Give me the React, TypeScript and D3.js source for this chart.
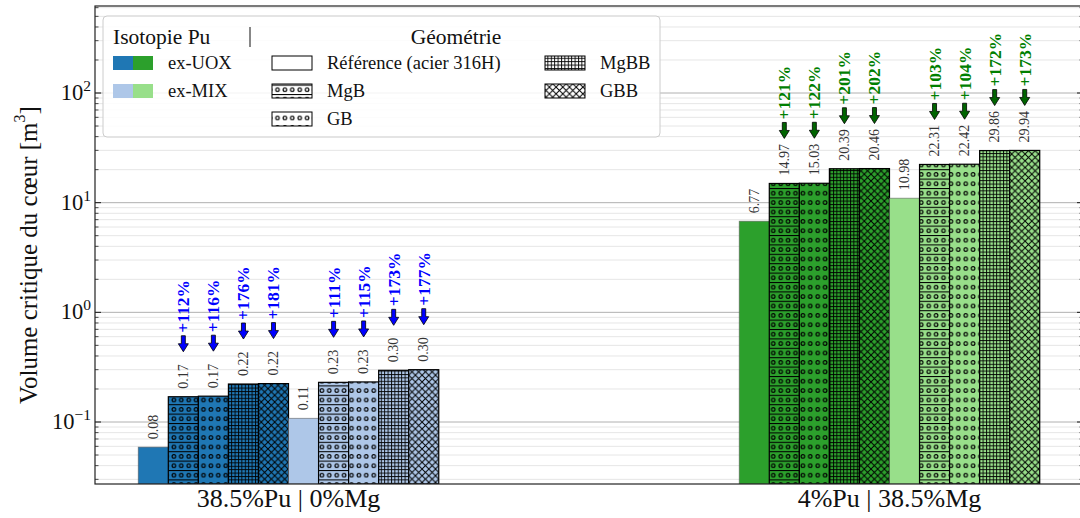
import React from "react";
import * as d3 from "d3";

// ---------- DATA ----------
const groupLabels = ["38.5%Pu | 0%Mg", "4%Pu | 38.5%Mg"];
const geometries = ["Référence (acier 316H)", "MgB", "GB", "MgBB", "GBB"];
const isotopes = ["ex-UOX", "ex-MIX"];

// bar heights [m3] (group 0 = 38.5%Pu|0%Mg, group 1 = 4%Pu|38.5%Mg)
const uoxGroup0 = [0.059, 0.17, 0.172, 0.222, 0.224];
const mixGroup0 = [0.108, 0.23, 0.232, 0.296, 0.3];
const uoxGroup1 = [6.77, 14.97, 15.03, 20.39, 20.46];
const mixGroup1 = [10.98, 22.31, 22.42, 29.86, 29.94];

// printed value labels
const valueLabels0 = ["0.08", "0.17", "0.17", "0.22", "0.22", "0.11", "0.23", "0.23", "0.30", "0.30"];
const valueLabels1 = ["6.77", "14.97", "15.03", "20.39", "20.46", "10.98", "22.31", "22.42", "29.86", "29.94"];

// gain labels vs reference (for MgB, GB, MgBB, GBB)
const gainUox0 = ["+112%", "+116%", "+176%", "+181%"];
const gainMix0 = ["+111%", "+115%", "+173%", "+177%"];
const gainUox1 = ["+121%", "+122%", "+201%", "+202%"];
const gainMix1 = ["+103%", "+104%", "+172%", "+173%"];

const yTickValues = [0.1, 1, 10, 100];
const yTickExps = ["−1", "0", "1", "2"];

// ---------- STYLE ----------
const colors = [
  ["#1f77b4", "#aec7e8"],
  ["#2ca02c", "#98df8a"],
];
const gainTextColors = ["#0000ff", "#008000"];
const arrowColors = ["#0000ff", "#006400"];
const patternIds = [null, "pMgB", "pGB", "pMgBB", "pGBB"];
const FONT = "'Liberation Serif', 'Times New Roman', serif";

const W = 1080;
const H = 518;
const left = 95;
const right = 1083;
const top = 6;
const bottom = 484;

export default function App() {
  const x = d3.scaleLinear().domain([-0.322, 1.322]).range([left, right]);
  const y = d3.scaleLog().domain([0.02721, 621.4]).range([bottom, top]);
  const barW = 0.05;
  const bwPx = x(barW) - x(0);

  const heights = [
    [uoxGroup0, mixGroup0],
    [uoxGroup1, mixGroup1],
  ];
  const vLabels = [valueLabels0, valueLabels1];
  const gains = [
    [gainUox0, gainMix0],
    [gainUox1, gainMix1],
  ];

  type Bar = { g: number; iso: number; geo: number; idx: number; v: number; cx: number; label: string; gain: string | null };
  const bars: Bar[] = [];
  [0, 1].forEach((g) => {
    [0, 1].forEach((iso) => {
      heights[g][iso].forEach((v, geo) => {
        const idx = iso * 5 + geo;
        const cx = x(g + (idx - 4.5) * barW);
        bars.push({
          g,
          iso,
          geo,
          idx,
          v,
          cx,
          label: vLabels[g][idx],
          gain: geo > 0 ? gains[g][iso][geo - 1] : null,
        });
      });
    });
  });

  const [d0, d1] = y.domain();
  const minor: number[] = [];
  const major: number[] = [];
  for (let e = -2; e <= 3; e++) {
    for (let k = 1; k <= 9; k++) {
      const v = k * Math.pow(10, e);
      if (v < d0 || v > d1) continue;
      if (k === 1) major.push(v);
      else minor.push(v);
    }
  }

  const arrowPath = (cx: number, tip: number) => {
    const tail = tip - 16;
    const hl = 8;
    return `M${cx - 2},${tail} L${cx + 2},${tail} L${cx + 2},${tip - hl} L${cx + 5},${tip - hl} L${cx},${tip} L${cx - 5},${tip - hl} L${cx - 2},${tip - hl} Z`;
  };

  // legend layout
  const lg = { x: 103, y: 16, w: 557, h: 121 };
  const rowY = [63, 91, 119];
  const geoLegend = [
    { geo: 0, col: 0, row: 0 },
    { geo: 1, col: 0, row: 1 },
    { geo: 2, col: 0, row: 2 },
    { geo: 3, col: 1, row: 0 },
    { geo: 4, col: 1, row: 1 },
  ];
  const colPatchX = [272, 545];
  const colTextX = [327, 600];

  return (
    <svg
      width={W}
      height={H}
      style={{ position: "absolute", left: 0, top: 0, display: "block", background: "#fff" }}
      fontFamily={FONT}
    >
      <defs>
        <clipPath id="plotClip">
          <rect x={left} y={top} width={right - left} height={bottom - top} />
        </clipPath>
        <pattern id="pMgB" patternUnits="userSpaceOnUse" width={7.4} height={9.4}>
          <line x1={0} y1={0.5} x2={7.4} y2={0.5} stroke="#000" strokeWidth={1.1} />
          <circle cx={3.7} cy={5.2} r={1.8} fill="none" stroke="#000" strokeWidth={1.1} />
        </pattern>
        <pattern id="pGB" patternUnits="userSpaceOnUse" width={7.4} height={9.4}>
          <circle cx={3.7} cy={5.2} r={1.8} fill="none" stroke="#000" strokeWidth={1.1} />
        </pattern>
        <pattern id="pMgBB" patternUnits="userSpaceOnUse" width={3.4} height={3.4}>
          <line x1={0.5} y1={0} x2={0.5} y2={3.4} stroke="#000" strokeWidth={0.9} />
          <line x1={0} y1={0.5} x2={3.4} y2={0.5} stroke="#000" strokeWidth={0.9} />
        </pattern>
        <pattern id="pGBB" patternUnits="userSpaceOnUse" width={6.7} height={6.7}>
          <path d="M0,0 L6.7,6.7 M6.7,0 L0,6.7" stroke="#000" strokeWidth={1} />
        </pattern>
      </defs>

      {/* grid */}
      <g clipPath="url(#plotClip)">
        {minor.map((v) => (
          <line key={"mg" + v} x1={left} x2={right} y1={y(v)} y2={y(v)} stroke="#e6e6e6" strokeWidth={1} />
        ))}
        {major.map((v) => (
          <line key={"Mg" + v} x1={left} x2={right} y1={y(v)} y2={y(v)} stroke="#b0b0b0" strokeWidth={1} />
        ))}
      </g>

      {/* bars */}
      <g clipPath="url(#plotClip)">
        {bars.map((b) => {
          const x0 = b.cx - bwPx / 2;
          const yt = y(b.v);
          const h = bottom - yt;
          const fill = colors[b.g][b.iso];
          const pid = patternIds[b.geo];
          return (
            <g key={`b${b.g}-${b.idx}`}>
              <rect x={x0} y={yt} width={bwPx} height={h} fill={fill} />
              {pid && <rect x={x0} y={yt} width={bwPx} height={h} fill={`url(#${pid})`} />}
              <rect
                x={x0}
                y={yt}
                width={bwPx}
                height={h}
                fill="none"
                stroke={pid ? "#000" : "#555"}
                strokeOpacity={pid ? 1 : 0.6}
                strokeWidth={pid ? 1.2 : 0.9}
              />
            </g>
          );
        })}
      </g>

      {/* annotations */}
      {bars.map((b) => {
        const yt = y(b.v);
        return (
          <g key={`a${b.g}-${b.idx}`}>
            <text
              transform={`translate(${b.cx},${yt - 8}) rotate(-90)`}
              fontSize={14}
              fill="#333"
              dominantBaseline="central"
              textAnchor="start"
            >
              {b.label}
            </text>
            {b.gain && (
              <>
                <path d={arrowPath(b.cx, yt - 45)} fill={arrowColors[b.g]} stroke="#000" strokeWidth={0.8} />
                <text
                  transform={`translate(${b.cx},${yt - 64}) rotate(-90)`}
                  fontSize={17.5}
                  fontWeight="bold"
                  fill={gainTextColors[b.g]}
                  dominantBaseline="central"
                  textAnchor="start"
                >
                  {b.gain}
                </text>
              </>
            )}
          </g>
        );
      })}

      {/* ticks */}
      {major.map((v) => (
        <g key={"tk" + v}>
          <line x1={left} x2={left + 6} y1={y(v)} y2={y(v)} stroke="#000" strokeWidth={0.9} />
          <line x1={right} x2={right - 6} y1={y(v)} y2={y(v)} stroke="#000" strokeWidth={0.9} />
        </g>
      ))}
      {minor.map((v) => (
        <g key={"tm" + v}>
          <line x1={left} x2={left + 3.5} y1={y(v)} y2={y(v)} stroke="#000" strokeWidth={0.7} />
          <line x1={right} x2={right - 3.5} y1={y(v)} y2={y(v)} stroke="#000" strokeWidth={0.7} />
        </g>
      ))}

      {/* spines */}
      <rect x={left} y={top} width={right - left} height={bottom - top} fill="none" stroke="#222" strokeWidth={1.2} />

      {/* y tick labels */}
      {yTickValues.map((v, i) => (
        <text key={"yl" + v} x={91} y={y(v) + 7} textAnchor="end" fontSize={22.5} fill="#111">
          10
          <tspan fontSize={15.5} dy={-9}>
            {yTickExps[i]}
          </tspan>
        </text>
      ))}

      {/* y axis title */}
      <text
        transform={`translate(28,${(top + bottom) / 2 + 10}) rotate(-90)`}
        textAnchor="middle"
        dominantBaseline="central"
        fontSize={25}
        fill="#111"
      >
        Volume critique du cœur [m
        <tspan fontSize={16} dy={-9}>
          3
        </tspan>
        <tspan dy={9}>]</tspan>
      </text>

      {/* x category labels */}
      {groupLabels.map((l, g) => (
        <text key={l} x={x(g)} y={507} textAnchor="middle" fontSize={26} fill="#111">
          {l}
        </text>
      ))}

      {/* legend */}
      <g>
        <rect x={lg.x} y={lg.y} width={lg.w} height={lg.h} rx={4} fill="#fff" fillOpacity={0.85} stroke="#cccccc" strokeWidth={1} />
        <text x={113} y={44} fontSize={21.5} fill="#111">
          Isotopie Pu
        </text>
        <line x1={250} x2={250} y1={27} y2={47} stroke="#111" strokeWidth={1} />
        <text x={456} y={44} fontSize={21.5} textAnchor="middle" fill="#111">
          Géométrie
        </text>
        {isotopes.map((iso, i) => (
          <g key={iso}>
            <rect x={113} y={rowY[i] - 7} width={20} height={14} fill={colors[0][i]} />
            <rect x={133} y={rowY[i] - 7} width={20} height={14} fill={colors[1][i]} />
            <text x={168} y={rowY[i] + 6} fontSize={18.5} fill="#111">
              {iso}
            </text>
          </g>
        ))}
        {geoLegend.map((e) => {
          const pid = patternIds[e.geo];
          const px = colPatchX[e.col];
          const py = rowY[e.row] - 7;
          return (
            <g key={"gl" + e.geo}>
              <rect x={px} y={py} width={40} height={14} fill="#fff" />
              {pid && <rect x={px} y={py} width={40} height={14} fill={`url(#${pid})`} />}
              <rect x={px} y={py} width={40} height={14} fill="none" stroke="#000" strokeWidth={1} />
              <text x={colTextX[e.col]} y={rowY[e.row] + 6} fontSize={18.5} fill="#111">
                {geometries[e.geo]}
              </text>
            </g>
          );
        })}
      </g>
    </svg>
  );
}
